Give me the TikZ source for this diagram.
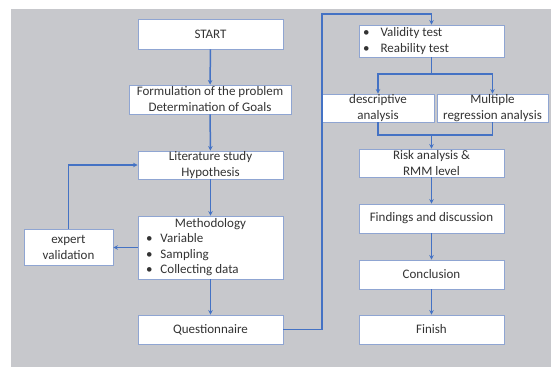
\documentclass[tikz,border=0pt]{standalone}
\usepackage{fontspec}
\setmainfont{Carlito}
\usetikzlibrary{arrows.meta}
\definecolor{bg}{RGB}{199,200,204}
\definecolor{lnblue}{RGB}{68,114,196}
\definecolor{bdblue}{RGB}{143,165,210}
\tikzset{
  box/.style={draw=bdblue, line width=0.9pt, fill=white, inner sep=0pt, align=center,
    font=\fontsize{13}{16}\selectfont, text=black!80},
  arr/.style={draw=lnblue, line width=1.5pt, -{Stealth[length=4.5pt,width=4.5pt]}},
  ln/.style={draw=lnblue, line width=1.5pt}
}
\begin{document}
\begin{tikzpicture}[x=1pt,y=-1pt]
\useasboundingbox (0,0) rectangle (551,367);
\fill[bg] (11,9) rectangle (551,367);
% left column
\node[box, minimum width=145pt, minimum height=30pt] (start) at (210.5,34) {START};
\node[box, minimum width=162pt, minimum height=29pt] (form) at (210,99.5) {Formulation of the problem\\Determination of Goals};
\node[box, minimum width=145pt, minimum height=28pt] (lit) at (210.5,165) {Literature study\\Hypothesis};
\node[box, minimum width=145pt, minimum height=63pt, font=\fontsize{13}{15.5}\selectfont] (meth) at (210.5,247.5)
  {\begin{tabular}{@{}l@{\hspace{8pt}}l@{}}\multicolumn{2}{@{}c@{}}{\makebox[129pt]{Methodology}}\\
   \textbullet & Variable\\ \textbullet & Sampling\\ \textbullet & Collecting data\end{tabular}};
\node[box, minimum width=89pt, minimum height=36pt] (expert) at (68.5,247) {expert\\validation};
\node[box, minimum width=145pt, minimum height=29pt] (quest) at (210.5,329.5) {Questionnaire};
% right column
\node[box, minimum width=145pt, minimum height=28pt] (valid) at (431.5,41)
  {\begin{tabular}{@{}l@{\hspace{11pt}}l@{}}\textbullet & Validity test\\ \textbullet & Reability test\end{tabular}\hspace{51pt}};
\node[box, minimum width=112pt, minimum height=28pt] (desc) at (378,108) {descriptive\\analysis};
\node[box, minimum width=111pt, minimum height=28pt] (mult) at (492.5,108) {Multiple\\regression analysis};
\node[box, minimum width=145pt, minimum height=28pt] (risk) at (431.5,163) {Risk analysis \&\\RMM level};
\node[box, minimum width=145pt, minimum height=29pt] (find) at (431.5,218.5) {Findings and discussion};
\node[box, minimum width=145pt, minimum height=29pt] (concl) at (431.5,274.5) {Conclusion};
\node[box, minimum width=145pt, minimum height=29pt] (finish) at (431.5,329.5) {Finish};
% connectors
\draw[arr] (start) -- (form);
\draw[arr] (form) -- (lit);
\draw[arr] (lit) -- (meth);
\draw[arr] (meth) -- (quest);
\draw[arr] (meth.west) -- (expert.east |- meth.west);
\draw[arr] (expert.north) |- (lit.west);
\coordinate (top) at (322,14);
\draw[arr] (quest.east) -| (top) -| (valid.north);
\coordinate (split) at (431.5,74);
\coordinate (merge) at (431.5,135);
\draw[ln] (valid.south) -- (split);
\draw[arr] (split) -| (desc.north);
\draw[arr] (split) -| (mult.north);
\draw[ln] (desc.south) |- (merge);
\draw[ln] (mult.south) |- (merge);
\draw[arr] (merge) -- (risk.north);
\draw[arr] (risk) -- (find);
\draw[arr] (find) -- (concl);
\draw[arr] (concl) -- (finish);
\end{tikzpicture}
\end{document}
